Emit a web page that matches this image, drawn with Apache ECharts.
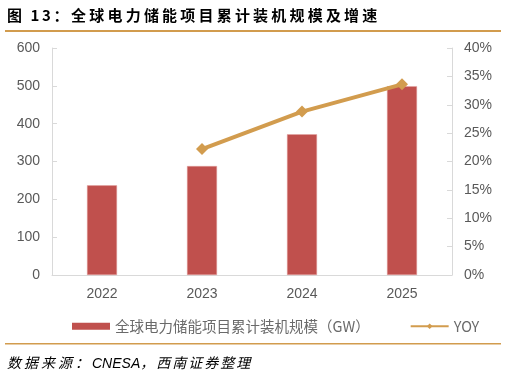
<!DOCTYPE html>
<html><head><meta charset="utf-8">
<script src="https://cdn.jsdelivr.net/npm/echarts@6/dist/echarts.min.js"></script>
<style>
html,body{margin:0;padding:0;background:#fff}
#wrap{position:relative;width:507px;height:377px}
#c{width:507px;height:377px}
.t{position:absolute;white-space:nowrap;font-family:"Noto Sans CJK SC",sans-serif;color:#000}
#title{left:7px;top:4px;font-size:15px;font-weight:bold}
#src{left:7px;top:352px;font-size:14px;font-style:italic}
.a{letter-spacing:2.6px}.b{letter-spacing:3.2px}.c{letter-spacing:3px}.d{letter-spacing:0;font-family:"Liberation Sans",sans-serif}.e{letter-spacing:2px}
</style>
</head><body><div id="wrap"><div id="c"></div><div id="title" class="t"></div><div id="src" class="t"></div></div>
<script>
const categories = ['2022', '2023', '2024', '2025'];
const capacity = [237, 288, 372, 499];
const yoy = [null, 22.2, 28.8, 33.6];
const leftTicks = [0, 600, 100];
const rightTicks = [0, 40, 5];
const barName = '全球电力储能项目累计装机规模（GW）';
const lineName = 'YOY';
const titleParts = ['图 13：', '全球电力储能项目累计装机规模及增速'];
const sourceParts = ['数据来源：', 'CNESA', '，西南证券整理'];

function fill(id, parts, classes) {
  const el = document.getElementById(id);
  parts.forEach((p, i) => { const s = document.createElement('span'); s.className = classes[i]; s.textContent = p; el.appendChild(s); });
}
fill('title', titleParts, ['a', 'b']);
fill('src', sourceParts, ['c', 'd', 'e']);

const chart = echarts.init(document.getElementById('c'));
const axisCol = '#d9d9d9';
const labCol = '#595959';
chart.setOption({
  animation: false,
  textStyle: {fontFamily: 'Liberation Sans, Arial, Noto Sans CJK SC'},
  grid: {left: 52, right: 55, top: 48, bottom: 102},
  legend: {
    top: 314, left: 67, itemGap: 40, itemWidth: 38, itemHeight: 7,
    textStyle: {fontSize: 14.5, color: '#6a6a6a', fontFamily: 'Noto Sans CJK SC, Liberation Sans'},
    data: [{name: barName, icon: 'rect', itemStyle: {borderWidth: 0}}, {name: lineName}]
  },
  xAxis: {
    type: 'category', data: categories,
    axisLine: {lineStyle: {color: axisCol}},
    axisTick: {inside: true, length: 5, lineStyle: {color: axisCol}},
    axisLabel: {fontSize: 14, color: labCol, margin: 12}
  },
  yAxis: [{
    type: 'value', min: leftTicks[0], max: leftTicks[1], interval: leftTicks[2],
    axisLine: {show: true, lineStyle: {color: axisCol}},
    axisTick: {show: true, inside: true, length: 5, lineStyle: {color: axisCol}},
    splitLine: {show: false},
    axisLabel: {fontSize: 14, color: labCol, margin: 12}
  }, {
    type: 'value', min: rightTicks[0], max: rightTicks[1], interval: rightTicks[2],
    position: 'right',
    axisLine: {show: true, lineStyle: {color: axisCol}},
    axisTick: {show: true, inside: true, length: 5, lineStyle: {color: axisCol}},
    splitLine: {show: false},
    axisLabel: {fontSize: 14, color: labCol, margin: 12, formatter: '{value}%'}
  }],
  series: [{
    name: barName, type: 'bar', data: capacity, barWidth: 30,
    itemStyle: {color: '#C0504D', borderColor: '#E3A3A1', borderWidth: 0.5}
  }, {
    name: lineName, type: 'line', yAxisIndex: 1, data: yoy,
    symbol: 'diamond', symbolSize: 12, connectNulls: false,
    lineStyle: {color: '#D29C4E', width: 4},
    itemStyle: {color: '#D29C4E'}
  }],
  graphic: [
    {type: 'rect', shape: {x: 5, y: 30, width: 496, height: 2}, style: {fill: '#D29C4E'}},
    {type: 'rect', shape: {x: 5, y: 343, width: 496, height: 1.5}, style: {fill: '#D29C4E'}}
  ]
});
</script></body></html>
